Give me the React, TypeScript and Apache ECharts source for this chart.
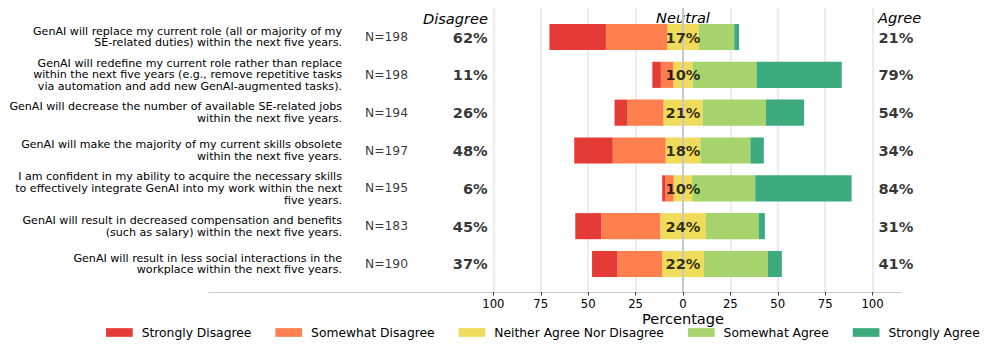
import React, { useEffect, useRef } from "react";
import * as echarts from "echarts";

const questions = [
  "GenAI will replace my current role (all or majority of my\nSE-related duties) within the next five years.",
  "GenAI will redefine my current role rather than replace\nwithin the next five years (e.g., remove repetitive tasks\nvia automation and add new GenAI-augmented tasks).",
  "GenAI will decrease the number of available SE-related jobs\nwithin the next five years.",
  "GenAI will make the majority of my current skills obsolete\nwithin the next five years.",
  "I am confident in my ability to acquire the necessary skills\nto effectively integrate GenAI into my work within the next\nfive years.",
  "GenAI will result in decreased compensation and benefits\n(such as salary) within the next five years.",
  "GenAI will result in less social interactions in the\nworkplace within the next five years.",
];
const sampleSizes = [198, 198, 194, 197, 195, 183, 190];

const stronglyDisagree = [29.8, 4.5, 6.7, 20.3, 1.5, 13.7, 13.2];
const somewhatDisagree = [32.3, 6.6, 19.1, 27.9, 4.6, 31.1, 23.7];
const neutral = [16.7, 10.1, 20.6, 18.3, 9.7, 24.0, 22.1];
const somewhatAgree = [18.7, 33.8, 33.5, 26.4, 33.3, 27.9, 33.7];
const stronglyAgree = [2.5, 44.9, 20.1, 7.1, 50.8, 3.3, 7.4];

const disagreeTotals = [62, 11, 26, 48, 6, 45, 37];
const neutralTotals = [17, 10, 21, 18, 10, 24, 22];
const agreeTotals = [21, 79, 54, 34, 84, 31, 41];

const xTicks = [-100, -75, -50, -25, 0, 25, 50, 75, 100];
const legendNames = [
  "Strongly Disagree",
  "Somewhat Disagree",
  "Neither Agree Nor Disagree",
  "Somewhat Agree",
  "Strongly Agree",
];
const colors = ["#E53B37", "#FF7F4F", "#F0DC5A", "#A6D36B", "#3DAA7E"];

const X_MIN = -250;
const X_MAX = 115;
const N_X = -167.7;
const DIS_X = -103.0;
const AGR_X = 103.1;
const FONT = "DejaVu Sans";

export default function App() {
  const ref = useRef<HTMLDivElement>(null);
  useEffect(() => {
    if (!ref.current) return;
    const chart = echarts.init(ref.current, undefined, { renderer: "svg" });
    const barCommon = {
      type: "bar",
      stack: "likert",
      xAxisIndex: 1,
      yAxisIndex: 1,
      barCategoryGap: "31%",
      silent: true,
      z: 2,
    };
    const labelSeries = (
      x: number,
      fmt: (i: number) => string,
      align: string,
      bold: boolean,
      size: number
    ) => ({
      type: "scatter",
      xAxisIndex: 1,
      yAxisIndex: 1,
      symbolSize: 0,
      silent: true,
      z: 10,
      data: questions.map((_, i) => [x, i]),
      label: {
        show: true,
        position: "inside",
        formatter: (p: any) => fmt(p.dataIndex),
        align,
        verticalAlign: "middle",
        fontSize: size,
        fontWeight: bold ? "bold" : "normal",
        fontFamily: FONT,
        color: "#000",
      },
    });
    const option: any = {
      animation: false,
      textStyle: { fontFamily: FONT },
      grid: [
        { left: 209, right: 95, top: 8, bottom: 63 },
        { left: 209, right: 95, top: 18.1, bottom: 72.1 },
      ],
      xAxis: [
        {
          gridIndex: 0,
          type: "value",
          min: X_MIN,
          max: X_MAX,
          axisLine: { show: true, lineStyle: { color: "#cccccc", width: 1 } },
          axisTick: {
            show: true,
            customValues: xTicks,
            length: 3.5,
            lineStyle: { color: "#444", width: 1 },
          },
          axisLabel: {
            customValues: xTicks,
            formatter: (v: number) => String(Math.abs(v)),
            fontSize: 11.7,
            color: "#000",
            margin: 6,
            fontFamily: FONT,
          },
          splitLine: { show: false },
        },
        {
          gridIndex: 1,
          type: "value",
          min: X_MIN,
          max: X_MAX,
          show: false,
        },
      ],
      yAxis: [
        { gridIndex: 0, type: "value", min: 0, max: 1, show: false },
        {
          gridIndex: 1,
          type: "category",
          inverse: true,
          data: questions,
          axisLine: { show: false },
          axisTick: { show: false },
          splitLine: { show: false },
          axisLabel: {
            interval: 0,
            margin: -133,
            align: "right",
            fontSize: 11.1,
            lineHeight: 11.7,
            color: "#000",
            fontFamily: FONT,
          },
        },
      ],
      legend: {
        left: 106,
        top: 326.5,
        padding: 0,
        icon: "rect",
        itemWidth: 26.7,
        itemHeight: 8.7,
        itemGap: 24,
        data: legendNames,
        selectedMode: false,
        textStyle: {
          fontSize: 12.3,
          color: "#000",
          fontFamily: FONT,
          padding: [0, 0, 0, 4],
        },
      },
      graphic: [
        {
          type: "text",
          x: 488,
          y: 18,
          style: {
            text: "Disagree",
            fontSize: 14.6,
            fontStyle: "italic",
            fontFamily: FONT,
            fill: "#000",
            align: "right",
            verticalAlign: "middle",
          },
        },
        {
          type: "text",
          x: 683,
          y: 17,
          style: {
            text: "Neutral",
            fontSize: 14.6,
            fontStyle: "italic",
            fontFamily: FONT,
            fill: "#000",
            align: "center",
            verticalAlign: "middle",
          },
        },
        {
          type: "text",
          x: 878,
          y: 17.7,
          style: {
            text: "Agree",
            fontSize: 14.6,
            fontStyle: "italic",
            fontFamily: FONT,
            fill: "#000",
            align: "left",
            verticalAlign: "middle",
          },
        },
        {
          type: "text",
          x: 683,
          y: 318.5,
          style: {
            text: "Percentage",
            fontSize: 14.6,
            fontFamily: FONT,
            fill: "#000",
            align: "center",
            verticalAlign: "middle",
          },
        },
      ],
      series: [
        {
          type: "scatter",
          xAxisIndex: 0,
          yAxisIndex: 0,
          symbolSize: 0,
          silent: true,
          data: [[X_MIN, -1]],
          markLine: {
            silent: true,
            symbol: "none",
            z: 1,
            label: { show: false },
            lineStyle: { color: "#e6e6e6", width: 1.5, type: "solid" },
            data: xTicks.map((v) => ({ xAxis: v })),
          },
        },
        {
          ...barCommon,
          name: legendNames[2],
          itemStyle: { color: colors[2] },
          data: neutral.map((v) => -v / 2),
        },
        {
          ...barCommon,
          name: legendNames[1],
          itemStyle: { color: colors[1] },
          data: somewhatDisagree.map((v) => -v),
        },
        {
          ...barCommon,
          name: legendNames[0],
          itemStyle: { color: colors[0] },
          data: stronglyDisagree.map((v) => -v),
        },
        {
          ...barCommon,
          name: legendNames[2],
          itemStyle: { color: colors[2] },
          data: neutral.map((v) => v / 2),
        },
        {
          ...barCommon,
          name: legendNames[3],
          itemStyle: { color: colors[3] },
          data: somewhatAgree,
        },
        {
          ...barCommon,
          name: legendNames[4],
          itemStyle: { color: colors[4] },
          data: stronglyAgree,
        },
        {
          type: "scatter",
          xAxisIndex: 0,
          yAxisIndex: 0,
          symbolSize: 0,
          silent: true,
          data: [[X_MIN, -1]],
          markLine: {
            silent: true,
            symbol: "none",
            z: 5,
            label: { show: false },
            lineStyle: { color: "#c8c8c8", width: 2, type: "solid" },
            data: [{ xAxis: 0 }],
          },
        },
        labelSeries(N_X, (i) => `N=${sampleSizes[i]}`, "left", false, 12.3),
        labelSeries(DIS_X, (i) => `${disagreeTotals[i]}%`, "right", true, 14.6),
        labelSeries(0, (i) => `${neutralTotals[i]}%`, "center", true, 14.6),
        labelSeries(AGR_X, (i) => `${agreeTotals[i]}%`, "left", true, 14.6),
      ],
    };
    chart.setOption(option);
    return () => chart.dispose();
  }, []);
  return (
    <div
      ref={ref}
      style={{ position: "absolute", left: 0, top: 0, width: 996, height: 355 }}
    />
  );
}
